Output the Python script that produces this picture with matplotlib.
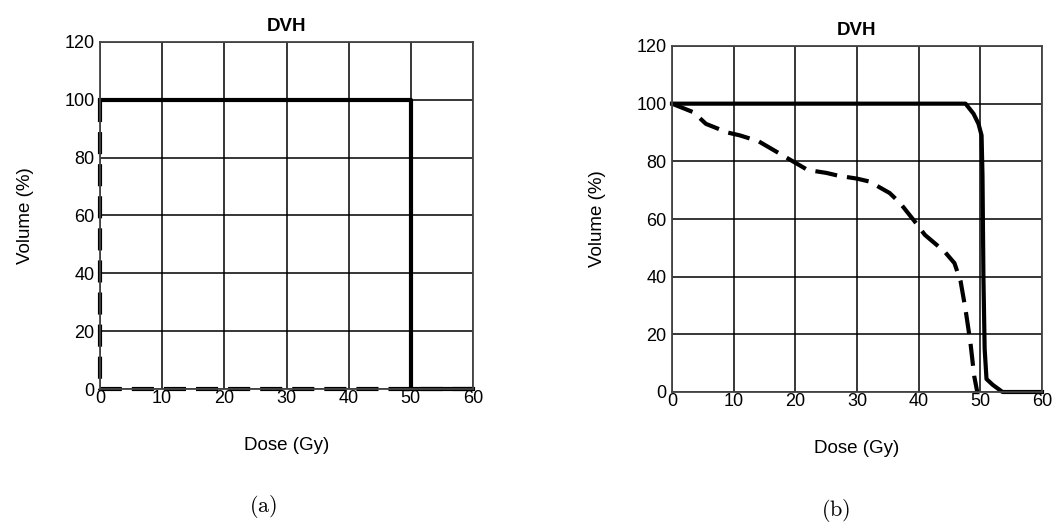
import matplotlib
matplotlib.use('Agg')
import matplotlib.pyplot as plt

plt.rcParams['font.family'] = ['Liberation Sans', 'DejaVu Sans']
plt.rcParams['mathtext.fontset'] = 'cm'

# panel (a): ideal DVH
a_target_x = [0, 50, 50, 60]
a_target_y = [100, 100, 0, 0]
a_organ_x = [0, 0, 60]
a_organ_y = [100, 0, 0]

# panel (b): realistic DVH
b_target_x = [0, 47.6, 48.9, 49.7, 50.2, 50.35, 50.5, 50.7, 51.0, 52.0, 53.6, 60]
b_target_y = [100, 100, 96.5, 93, 89, 75, 40, 15, 4.5, 2.5, 0, 0]
b_organ_x = [0, 3.5, 5.5, 9, 11, 14, 16, 19.6, 22, 25, 27, 30, 32, 35.3,
             37, 39.6, 41, 44.2, 45.8, 46.8, 47.6, 48.4, 49.0, 49.5]
b_organ_y = [100, 97, 93, 90, 89, 87, 84.5, 80, 77, 76, 75, 74, 73, 69,
             65.5, 58.5, 54.5, 48.7, 44.7, 38.4, 28.6, 17, 5.6, 0]

x_ticks = [0, 10, 20, 30, 40, 50, 60]
y_ticks = [0, 20, 40, 60, 80, 100, 120]

W, H = 1054, 531
fig = plt.figure(figsize=(W / 100, H / 100), dpi=100)


def px_axes(x0, x1, ytop, ybot):
    return fig.add_axes([x0 / W, 1 - ybot / H, (x1 - x0) / W, (ybot - ytop) / H])


def style(ax):
    ax.set_xlim(0, 60)
    ax.set_ylim(0, 120)
    ax.set_xticks(x_ticks)
    ax.set_yticks(y_ticks)
    ax.tick_params(length=0, labelsize=13)
    ax.tick_params(axis='x', pad=1)
    ax.tick_params(axis='y', pad=4)
    ax.grid(True, color='black', lw=1.1)
    ax.set_axisbelow(True)
    for s in ax.spines.values():
        s.set_color('#444444')
        s.set_linewidth(1.3)
    ax.set_title('DVH', fontsize=13.5, fontweight='bold', pad=8)
    ax.set_xlabel('Dose (Gy)', fontsize=13.5, labelpad=21)
    ax.set_ylabel('Volume (%)', fontsize=13.5, labelpad=22)


dash = (0, (5.3, 2.4))

ax1 = px_axes(100, 473, 42, 389)
style(ax1)
ax1.plot(a_organ_x, a_organ_y, color='black', lw=3, linestyle=dash, clip_on=False)
ax1.plot(a_target_x, a_target_y, color='black', lw=3, clip_on=False)

ax2 = px_axes(672, 1042, 46, 392)
style(ax2)
ax2.plot(b_organ_x, b_organ_y, color='black', lw=3, linestyle=dash, clip_on=False)
ax2.plot(b_target_x, b_target_y, color='black', lw=3, clip_on=False)

fig.text(263 / W, 1 - 507 / H, r'$\mathrm{(a)}$', fontsize=16, ha='center', va='center')
fig.text(836 / W, 1 - 510 / H, r'$\mathrm{(b)}$', fontsize=16, ha='center', va='center')

fig.savefig('out.png', dpi=100)
